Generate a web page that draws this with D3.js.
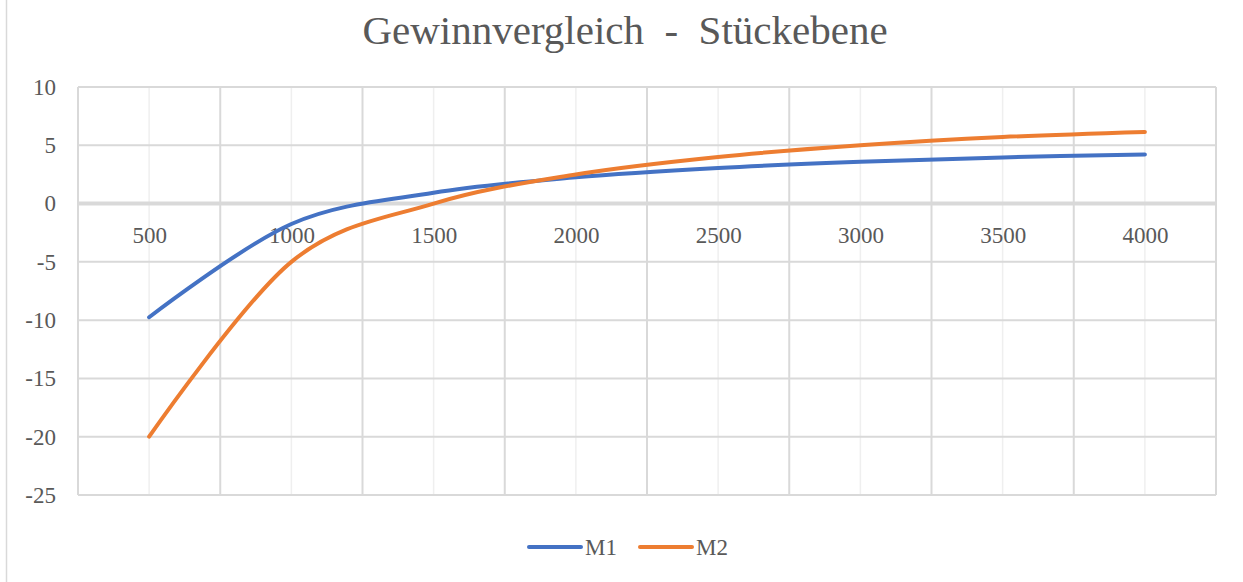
<!DOCTYPE html>
<html>
<head>
<meta charset="utf-8">
<script src="https://cdn.jsdelivr.net/npm/d3@7"></script>
<style>
  body { margin: 0; background: #fff; }
  svg text { font-family: "Liberation Serif", "DejaVu Serif", serif; fill: #595959; }
</style>
</head>
<body>
<svg id="chart"></svg>
<script>
// Stückzahlen und Stückgewinne
var mengen = [500, 1000, 1500, 2000, 2500, 3000, 3500, 4000];
var m1 = [-9.75, -1.75, 0.92, 2.25, 3.05, 3.58, 3.96, 4.22];
var m2 = [-20, -5, 0, 2.5, 4, 5, 5.71, 6.15];
var serien = [
  { name: "M1", werte: m1, farbe: "#4472C4" },
  { name: "M2", werte: m2, farbe: "#ED7D31" }
];
var yTicks = [10, 5, 0, -5, -10, -15, -20, -25];
var xLabels = [500, 1000, 1500, 2000, 2500, 3000, 3500, 4000];
var xMajor = [250, 750, 1250, 1750, 2250, 2750, 3250, 3750, 4250];

var scren = { width: 1243, height: 582 };
var margins = { top: 87, bottom: 87, left: 78, right: 27 };
var schrift = '"Liberation Serif", "DejaVu Serif", serif';

var svg = d3.select("#chart")
  .attr("width", scren.width)
  .attr("height", scren.height);

// Rahmen links
svg.append("line")
  .attr("x1", 6.5).attr("x2", 6.5)
  .attr("y1", 0).attr("y2", scren.height)
  .attr("stroke", "#d9d9d9").attr("stroke-width", 1.5);

var xScale = d3.scaleLinear()
  .domain([250, 4250])
  .range([margins.left, scren.width - margins.right]);
var yScale = d3.scaleLinear()
  .domain([-25, 10])
  .range([scren.height - margins.bottom, margins.top]);

// Titel
svg.append("text")
  .attr("x", 625).attr("y", 44)
  .attr("text-anchor", "middle")
  .attr("xml:space", "preserve")
  .style("white-space", "pre")
  .style("font-size", "41px")
  .text("Gewinnvergleich  -  Stückebene");

// Gitter
var grid = svg.append("g");
grid.selectAll(".minor")
  .data(xLabels)
  .enter().append("line")
  .attr("x1", function(d) { return xScale(d); })
  .attr("x2", function(d) { return xScale(d); })
  .attr("y1", yScale(10)).attr("y2", yScale(-25))
  .attr("stroke", "#efefef").attr("stroke-width", 1.5);
grid.selectAll(".major")
  .data(xMajor)
  .enter().append("line")
  .attr("x1", function(d) { return xScale(d); })
  .attr("x2", function(d) { return xScale(d); })
  .attr("y1", yScale(10)).attr("y2", yScale(-25))
  .attr("stroke", "#d9d9d9").attr("stroke-width", 2);
grid.selectAll(".hline")
  .data(yTicks)
  .enter().append("line")
  .attr("x1", xScale(250)).attr("x2", xScale(4250))
  .attr("y1", function(d) { return yScale(d); })
  .attr("y2", function(d) { return yScale(d); })
  .attr("stroke", "#d9d9d9")
  .attr("stroke-width", function(d) { return d == 0 ? 4 : 2; });

// Y-Achse
var yAxis = d3.axisLeft(yScale).tickValues(yTicks).tickSize(0).tickPadding(0)
  .tickFormat(function(d) { return String(d); });
var gy = svg.append("g")
  .attr("transform", "translate(" + (margins.left - 22) + ",0)")
  .call(yAxis);
gy.select(".domain").remove();
gy.selectAll("text")
  .style("font-family", schrift)
  .style("font-size", "23px")
  .attr("fill", "#595959");

// X-Beschriftung an der Nulllinie
var xAxis = d3.axisBottom(xScale).tickValues(xLabels).tickSize(0).tickPadding(0)
  .tickFormat(function(d) { return String(d); });
var gx = svg.append("g")
  .attr("transform", "translate(0," + (yScale(0) + 23) + ")")
  .call(xAxis);
gx.select(".domain").remove();
gx.selectAll("text")
  .style("font-family", schrift)
  .style("font-size", "23px")
  .attr("fill", "#595959");

// Linien
var linie = d3.line()
  .x(function(d, i) { return xScale(mengen[i]); })
  .y(function(d) { return yScale(d); })
  .curve(d3.curveCardinal);

svg.selectAll(".serie")
  .data(serien)
  .enter().append("path")
  .attr("d", function(d) { return linie(d.werte); })
  .attr("fill", "none")
  .attr("stroke", function(d) { return d.farbe; })
  .attr("stroke-width", 4)
  .attr("stroke-linecap", "round");

// Legende
var legende = svg.selectAll(".leg")
  .data(serien)
  .enter().append("g")
  .attr("transform", function(d, i) { return "translate(" + (529 + i * 111) + ",547)"; });
legende.append("line")
  .attr("x1", 0).attr("x2", 52)
  .attr("stroke", function(d) { return d.farbe; })
  .attr("stroke-width", 4)
  .attr("stroke-linecap", "round");
legende.append("text")
  .attr("x", 56).attr("y", 8)
  .style("font-size", "23px")
  .text(function(d) { return d.name; });
</script>
</body>
</html>
